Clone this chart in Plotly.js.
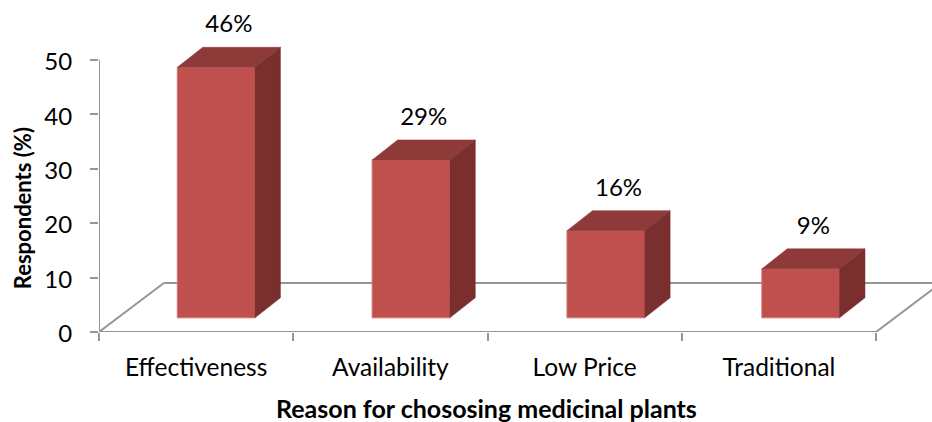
<!DOCTYPE html>
<html>
<head>
<meta charset="utf-8">
<script src="https://cdn.plot.ly/plotly-3.0.1.min.js"></script>
<style>html,body{margin:0;padding:0;background:#fff}#chart{width:932px;height:422px}</style>
</head>
<body>
<div id="chart"></div>
<script>
// Reasons respondents gave for choosing medicinal plants
const categories = ['Effectiveness', 'Availability', 'Low Price', 'Traditional'];
const respondents = [46, 29, 16, 9];
const valueTicks = [0, 10, 20, 30, 40, 50];
const groupEdges = [0, 1, 2, 3, 4];

// Pseudo-3D projection, in axis units
const barBase = 2.6;
const barOffset = 0.603;
const barStep = 1.003;
const barWidth = 0.4;
const depthX = 0.131;
const depthY = 3.68;
const floorX = 0.334;
const floorY = 9;
const labelGap = 3.85;

const FRONT = '#C0504D', TOP = '#8E3A38', SIDE = '#7A2F2E', AXIS = '#969696';
const FONT = 'Lato, Carlito, sans-serif';

const centers = categories.map((_, i) => i * barStep + barOffset);

function face(pointsX, pointsY, color) {
  return {
    type: 'scatter', mode: 'lines', x: pointsX, y: pointsY, fill: 'toself',
    fillcolor: color, line: {color: color, width: 0.5}, hoverinfo: 'skip', showlegend: false
  };
}

const traces = [{
  type: 'bar', x: centers, y: respondents, base: barBase, width: barWidth,
  marker: {color: FRONT, line: {color: '#CF7572', width: 1}},
  showlegend: false, hoverinfo: 'skip'
}];

respondents.forEach((v, i) => {
  const l = centers[i] - barWidth / 2, r = centers[i] + barWidth / 2;
  const top = barBase + v;
  traces.push(face([l, r, r + depthX, l + depthX, l], [top, top, top + depthY, top + depthY, top], TOP));
  traces.push(face([r, r + depthX, r + depthX, r, r],
    [barBase, barBase + depthY, top + depthY, top, barBase], SIDE));
});

// Value labels sit above each block's back edge
traces.push({
  type: 'scatter', mode: 'text',
  x: centers.map(c => c + depthX / 2),
  y: respondents.map(v => barBase + v + depthY + labelGap),
  text: respondents.map(v => v + '%'),
  textposition: 'middle center',
  textfont: {family: FONT, size: 24, color: '#000'},
  showlegend: false, hoverinfo: 'skip', cliponaxis: false
});

// Axis lines stop short of the full plotting range
traces.push({
  type: 'scatter', mode: 'lines', cliponaxis: false,
  x: [0, 0, null, 0, 4], y: [50, 0, null, 0, 0],
  line: {color: AXIS, width: 2}, showlegend: false, hoverinfo: 'skip'
});

// Floor outline behind the blocks
const floorLine = (x0, y0, x1, y1) => ({
  type: 'line', layer: 'below', xref: 'x', yref: 'y', x0, y0, x1, y1,
  line: {color: AXIS, width: 2}
});

const layout = {
  width: 932, height: 422,
  margin: {l: 98.5, r: 0, t: 0, b: 90.3},
  paper_bgcolor: '#fff', plot_bgcolor: '#fff',
  font: {family: FONT, color: '#000'},
  bargap: 0,
  showlegend: false,
  xaxis: {
    range: [0, 4.288], showgrid: false, zeroline: false, showline: false,
    tickmode: 'array', tickvals: categories.map((_, i) => i + 0.5), ticktext: categories,
    ticks: 'outside', ticklen: 0, tickwidth: 0, ticklabelstandoff: 14,
    tickfont: {family: FONT, size: 24.5, color: '#000'},
    minor: {tickmode: 'array', tickvals: groupEdges, ticks: 'outside', ticklen: 8, tickwidth: 2, tickcolor: AXIS, showgrid: false}
  },
  yaxis: {
    range: [0, 60.97], showgrid: false, zeroline: false, showline: false,
    tickmode: 'array', tickvals: valueTicks,
    ticks: 'outside', ticklen: 8, tickwidth: 2, tickcolor: AXIS, ticklabelstandoff: 13, ticklabelshift: 2,
    tickfont: {family: FONT, size: 24, color: '#000'}
  },
  // Axis titles are centred on the drawn axes rather than on the full plotting range
  annotations: [
    {xref: 'paper', yref: 'paper', x: (486 - 98.5) / 833.5, y: -(408 - 331.7) / 331.7, showarrow: false,
     xanchor: 'center', yanchor: 'middle', text: '<b>Reason for chososing medicinal plants</b>',
     font: {family: FONT, size: 25, color: '#000'}},
    {xref: 'paper', yref: 'paper', x: (21.5 - 98.5) / 833.5, y: (331.7 - 208) / 331.7, showarrow: false,
     xanchor: 'center', yanchor: 'middle', textangle: -90, text: '<b>Respondents (%)</b>',
     font: {family: FONT, size: 22, color: '#000'}}
  ],
  shapes: [
    floorLine(0, 0, floorX, floorY),
    floorLine(floorX, floorY, 4 + floorX, floorY),
    floorLine(4, 0, 4 + floorX, floorY)
  ]
};

Plotly.newPlot('chart', traces, layout, {displayModeBar: false, staticPlot: true});
</script>
</body>
</html>
